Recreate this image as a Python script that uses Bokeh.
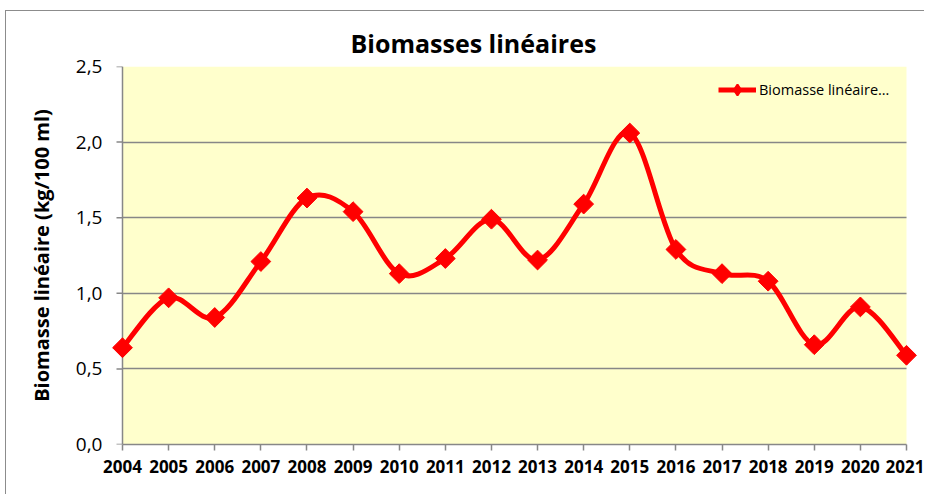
import math
from bokeh.plotting import figure
from bokeh.models import (Range1d, FixedTicker, CustomJSTickFormatter, Legend, LegendItem,
                          ColumnDataSource, BoxAnnotation, Span)
from bokeh.embed import file_html
from bokeh.resources import INLINE

years = [2004, 2005, 2006, 2007, 2008, 2009, 2010, 2011, 2012, 2013,
         2014, 2015, 2016, 2017, 2018, 2019, 2020, 2021]
biomasse = [0.64, 0.97, 0.84, 1.21, 1.63, 1.54, 1.13, 1.23, 1.49, 1.22,
            1.59, 2.06, 1.29, 1.13, 1.08, 0.66, 0.91, 0.59]
y_ticks = [0.0, 0.5, 1.0, 1.5, 2.0, 2.5]
title_text = "Biomasses linéaires"
y_label = "Biomasse linéaire (kg/100 ml)"
series_label = "Biomasse linéaire…"

# Smoothed curve (Catmull-Rom -> cubic Bezier), as Excel's smoothed line
n = len(years)
x0s, y0s, x1s, y1s, cx0s, cy0s, cx1s, cy1s = [], [], [], [], [], [], [], []
for i in range(n - 1):
    pa = (years[max(i - 1, 0)], biomasse[max(i - 1, 0)])
    p0 = (years[i], biomasse[i])
    p1 = (years[i + 1], biomasse[i + 1])
    pb = (years[min(i + 2, n - 1)], biomasse[min(i + 2, n - 1)])
    x0s.append(p0[0]); y0s.append(p0[1]); x1s.append(p1[0]); y1s.append(p1[1])
    cx0s.append(p0[0] + (p1[0] - pa[0]) / 6); cy0s.append(p0[1] + (p1[1] - pa[1]) / 6)
    cx1s.append(p1[0] - (pb[0] - p0[0]) / 6); cy1s.append(p1[1] - (pb[1] - p0[1]) / 6)
curve = ColumnDataSource(dict(x0=x0s, y0=y0s, x1=x1s, y1=y1s, cx0=cx0s, cy0=cy0s, cx1=cx1s, cy1=cy1s))
pts = ColumnDataSource(dict(x=years, y=biomasse))

FONT = "Open Sans"
GRAY = "#878787"
X_PAD = 0.3036  # room so the end markers are not clipped

p = figure(width=919, height=484, output_backend="svg", toolbar_location=None,
           x_range=Range1d(years[0] - X_PAD, years[-1] + X_PAD), y_range=Range1d(0, 2.5),
           min_border_left=102, min_border_right=5, min_border_top=55, min_border_bottom=51)
p.styles = {"margin-left": "5px", "margin-top": "10px",
            "border-left": "1px solid #8c8c8c", "border-top": "1px solid #8c8c8c"}
p.background_fill_color = "white"
p.border_fill_color = "white"
p.outline_line_color = None

# plot area (yellow) between first and last year
p.add_layout(BoxAnnotation(left=years[0], right=years[-1], bottom=y_ticks[0], top=y_ticks[-1],
                           fill_color="#FFFFCC", fill_alpha=1, line_color=None, level="image"))

p.title.text = title_text
p.title.align = "left"
p.title.offset = 242
p.title.text_font = FONT
p.title.text_font_size = "25px"
p.title.text_font_style = "bold"
p.title.text_color = "black"
p.title.standoff = 14

p.xaxis.ticker = FixedTicker(ticks=years)
p.xaxis.bounds = (years[0], years[-1])
p.xaxis.major_label_text_font = FONT
p.xaxis.major_label_text_font_size = "17px"
p.xaxis.major_label_text_font_style = "bold"
p.xaxis.major_label_text_color = "black"
p.xaxis.major_label_standoff = 9
p.xaxis.axis_line_color = GRAY
p.xaxis.axis_line_width = 1.5
p.xaxis.major_tick_line_color = GRAY
p.xaxis.major_tick_line_width = 1.5
p.xaxis.major_tick_out = 6
p.xaxis.major_tick_in = 0
p.xaxis.minor_tick_line_color = None

p.yaxis.ticker = FixedTicker(ticks=y_ticks)
p.yaxis.formatter = CustomJSTickFormatter(code="return tick.toFixed(1).replace('.', ',');")
p.yaxis.major_label_text_font = FONT
p.yaxis.major_label_text_font_size = "19px"
p.yaxis.major_label_text_color = "black"
p.yaxis.major_label_standoff = 6
p.yaxis.major_tick_out = 0
p.yaxis.major_tick_in = 0
p.yaxis.major_tick_line_color = None
p.yaxis.minor_tick_line_color = None
p.yaxis.axis_line_color = None
p.yaxis.axis_label = y_label
p.yaxis.axis_label_text_font = FONT
p.yaxis.axis_label_text_font_size = "20px"
p.yaxis.axis_label_text_font_style = "bold"
p.yaxis.axis_label_text_color = "black"
p.yaxis.axis_label_standoff = 18

# value axis line and ticks at the first year
p.add_layout(Span(location=years[0], dimension="height", line_color=GRAY, line_width=1.5, level="underlay"))
p.ray(x=years[0], y=y_ticks, length=6, length_units="screen", angle=math.pi,
      line_color=GRAY, line_width=1.5, level="underlay")

p.xgrid.grid_line_color = None
p.ygrid.grid_line_color = GRAY
p.ygrid.grid_line_width = 1.5
p.ygrid.cross_bounds = (years[0], years[-1])

r_line = p.bezier(x0="x0", y0="y0", x1="x1", y1="y1", cx0="cx0", cy0="cy0", cx1="cx1", cy1="cy1",
                  source=curve, line_color="#FF0000", line_width=5)
# legend key marker (hidden beneath the first data marker)
r_key = p.scatter(x=years[:1], y=biomasse[:1], marker="diamond", size=12,
                  fill_color="#FF0000", line_color="#FF0000", line_width=2)
r_pts = p.scatter(x="x", y="y", source=pts, marker="square", angle=math.pi / 4, size=14,
                  fill_color="#FF0000", line_color="#FF0000")

legend = Legend(items=[LegendItem(label=series_label, renderers=[r_line, r_key])],
                location=(610, 341), padding=0, margin=0, glyph_width=38, glyph_height=27,
                label_standoff=3, label_text_font=FONT, label_text_font_size="14.5px",
                label_text_color="black", background_fill_alpha=0, border_line_color=None)
p.add_layout(legend)

open("out.html", "w").write(file_html(p, INLINE))
